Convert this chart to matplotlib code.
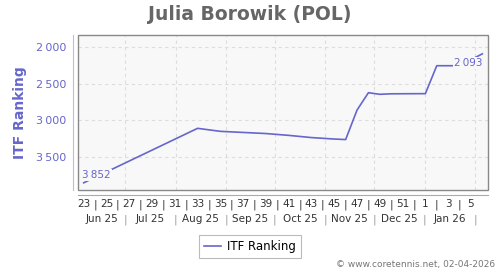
import numpy as np, pandas as pd
import matplotlib; matplotlib.use("Agg")
import matplotlib.pyplot as plt
from matplotlib.transforms import blended_transform_factory
from matplotlib.patches import Rectangle

# ISO weeks (year, week) and ITF ranking
pt_year = [2025]*13 + [2026]*4
pt_week = [23, 33, 35, 37, 39, 41, 43, 45, 46, 47, 48, 49, 50, 1, 2, 4, 6]
pt_rank = [3852, 3109, 3150, 3165, 3180, 3205, 3235, 3255, 3262, 2860, 2623, 2645, 2638, 2636, 2255, 2255, 2093]
months = ["Jun 25", "Jul 25", "Aug 25", "Sep 25", "Oct 25", "Nov 25", "Dec 25", "Jan 26"]
yticks = [2000, 2500, 3000, 3500]

LAV = "#6666cc"; BG = "#f8f8f8"
start = pd.Timestamp("2025-06-02")
end = pd.Timestamp("2026-02-09")
def wpos(y, w):
    return (pd.Timestamp.fromisocalendar(y, w, 1) - start).days + 3.5

xs = [wpos(y, w) for y, w in zip(pt_year, pt_week)]

fig = plt.figure(figsize=(5, 2.7), dpi=100)
ax = fig.add_axes([78/500, 80/270, 410/500, 155/270])
ax.set_facecolor(BG)
ax.plot(xs, pt_rank, color=LAV, lw=1.2, zorder=3)
ax.set_xlim(0, (end - start).days)
ax.set_ylim(3950, 1836)

fmt = lambda v: f"{v:,}".replace(",", "\u2009")
ax.set_yticks(yticks, [fmt(v) for v in yticks])
ax.tick_params(axis="y", length=0, pad=4.5, labelsize=8, labelcolor=LAV)

# week row: labels every 2 weeks, separators in between
wk_pos, wk_lab = [], []
for i in range(35):
    d = start + pd.Timedelta(days=7*i)
    wk_pos.append(7*i + 3.5)
    w = d.isocalendar()[1]
    wk_lab.append(str(w) if w % 2 == 1 else "|")
ax.set_xticks(wk_pos, wk_lab)
ax.tick_params(axis="x", length=0, pad=3, labelsize=7.5, labelcolor="#333333")
for t in ax.get_xticklabels():
    if t.get_text() == "|":
        t.set_color("#999999")

# month boundaries -> grid lines and month labels
mb = [(pd.Timestamp(f"{y}-{m:02d}-01") - start).days for y, m in
      [(2025, 7), (2025, 8), (2025, 9), (2025, 10), (2025, 11), (2025, 12), (2026, 1), (2026, 2)]]
for x in mb:
    ax.axvline(x, color="#dddddd", lw=0.8, ls=(0, (3, 3)), zorder=1)
for y in yticks:
    ax.axhline(y, color="#dddddd", lw=0.8, ls=(0, (3, 3)), zorder=1)
tr = blended_transform_factory(ax.transData, ax.transAxes)
edges = [0] + mb
for i, m in enumerate(months):
    ax.text((edges[i] + edges[i+1]) / 2, -0.19, m, transform=tr, ha="center", va="center",
            fontsize=7.5, color="#333333")
for x in mb:
    ax.text(x, -0.19, "|", transform=tr, ha="center", va="center", fontsize=7.5, color="#999999")

for s in ["top", "right"]:
    ax.spines[s].set_visible(False)
ax.spines["left"].set_position(("outward", 3.6))
ax.spines["left"].set_color("#bbbbe6")
ax.spines["bottom"].set_position(("outward", 3.6))
ax.spines["bottom"].set_color("#aaaaaa")
ax.add_patch(Rectangle((0, 0), 1, 1, transform=ax.transAxes, fill=False, ec="#888888",
                       lw=1.0, clip_on=False, zorder=5))

# end labels
ax.annotate(fmt(pt_rank[0]), (xs[0], pt_rank[0]), xytext=(-1, 2), textcoords="offset points",
            ha="left", va="bottom", fontsize=7.5, color=LAV, zorder=4,
            bbox=dict(boxstyle="square,pad=0.1", fc=BG, ec="none"))
ax.annotate(fmt(pt_rank[-1]), (xs[-1], pt_rank[-1]), xytext=(0, -3), textcoords="offset points",
            ha="right", va="top", fontsize=7.5, color=LAV, zorder=4,
            bbox=dict(boxstyle="square,pad=0.1", fc=BG, ec="none"))

fig.text(0.5, 1 - 14/270, "Julia Borowik (POL)", ha="center", va="center", fontsize=13.5,
         fontweight="bold", color="#666666")
fig.text(20/500, 1 - 113/270, "ITF Ranking", rotation=90, ha="center", va="center",
         fontsize=10, fontweight="bold", color=LAV)
leg = fig.legend([plt.Line2D([], [], color=LAV, lw=1.2)], ["ITF Ranking"], loc="center",
                 bbox_to_anchor=(250/500, 1 - 246.5/270), fancybox=False, fontsize=8.5,
                 edgecolor="#aaaaaa", handlelength=1.5, borderpad=0.4, handletextpad=0.5)
leg.get_frame().set_linewidth(0.8)
fig.text(495/500, 1 - 264/270, "\u00a9 www.coretennis.net, 02-04-2026", ha="right", va="center",
         fontsize=6.5, color="#777777")
fig.savefig("out.png", dpi=100)
